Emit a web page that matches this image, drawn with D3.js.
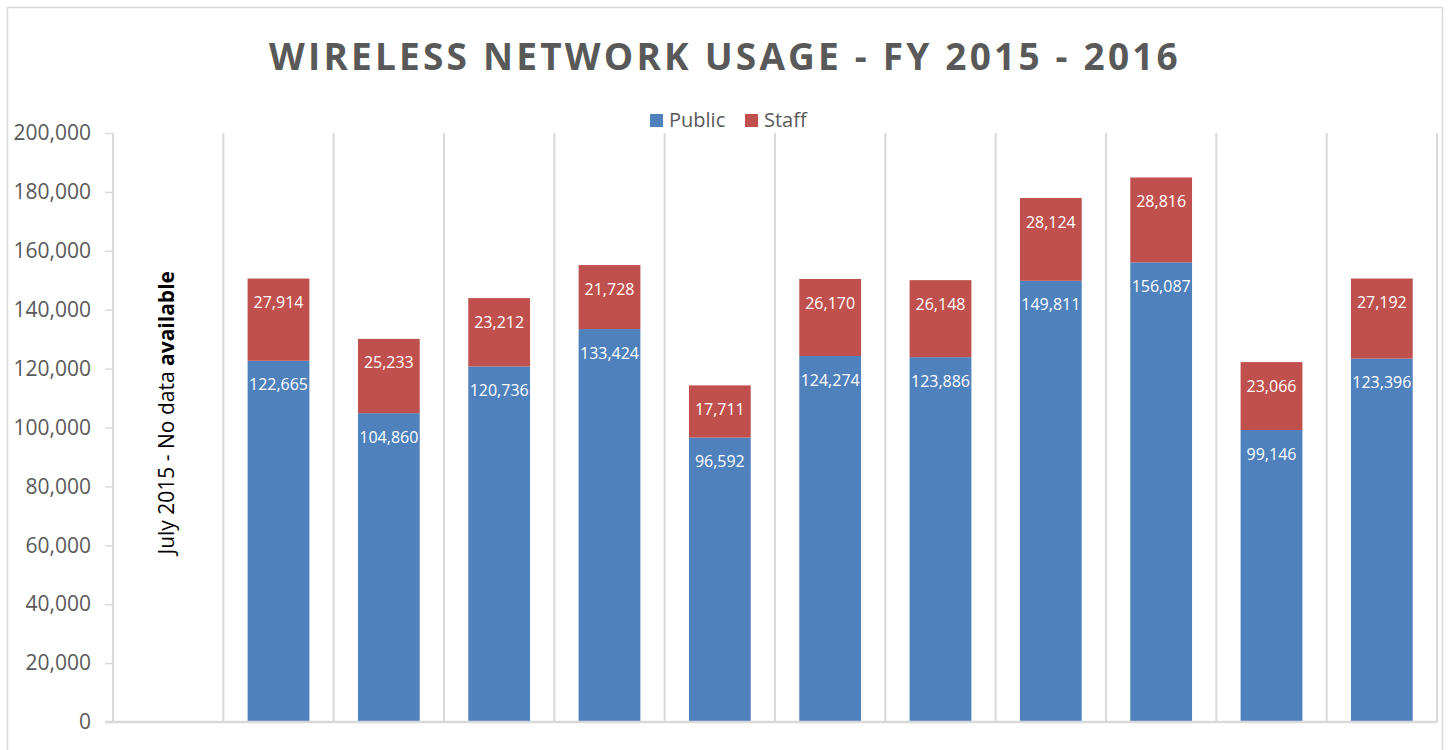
<!DOCTYPE html>
<html>
<head>
<meta charset="utf-8">
<script src="https://cdn.jsdelivr.net/npm/d3@7"></script>
<style>
  body { margin: 0; background: #fff; }
  svg text { font-family: "Open Sans", sans-serif; }
</style>
</head>
<body>
<div id="chart"></div>
<script>
const months = ["Jul 2015", "Aug 2015", "Sep 2015", "Oct 2015", "Nov 2015", "Dec 2015",
  "Jan 2016", "Feb 2016", "Mar 2016", "Apr 2016", "May 2016", "Jun 2016"];
const publicUse = [null, 122665, 104860, 120736, 133424, 96592, 124274, 123886, 149811, 156087, 99146, 123396];
const staffUse = [null, 27914, 25233, 23212, 21728, 17711, 26170, 26148, 28124, 28816, 23066, 27192];
const yTicks = [0, 20000, 40000, 60000, 80000, 100000, 120000, 140000, 160000, 180000, 200000];
const seriesNames = ["Public", "Staff"];

const width = 1448, height = 750;
const margin = { top: 133, right: 11, bottom: 28, left: 113 };

const svg = d3.select("#chart").append("svg")
  .attr("width", width)
  .attr("height", height);

// chart frame
svg.append("rect")
  .attr("x", 7.5).attr("y", 7.5)
  .attr("width", 1435).attr("height", 760)
  .attr("fill", "none")
  .attr("stroke", "#d9d9d9")
  .attr("stroke-width", 1.5);

const color = d3.scaleOrdinal().domain(seriesNames).range(["#4f81bd", "#c0504d"]);

const x = d3.scaleBand()
  .domain(months)
  .range([margin.left, width - margin.right])
  .paddingInner(0.44)
  .paddingOuter(0.22);

const y = d3.scaleLinear()
  .domain([0, 200000])
  .range([height - margin.bottom, margin.top]);

const step = x.step();

// vertical gridlines between categories
svg.append("g")
  .selectAll("line")
  .data(months.concat(["end"]))
  .join("line")
  .attr("x1", (d, i) => margin.left + i * step)
  .attr("x2", (d, i) => margin.left + i * step)
  .attr("y1", y(200000))
  .attr("y2", y(0))
  .attr("stroke", "#d9d9d9")
  .attr("stroke-width", 2);

// y axis
const yAxis = svg.append("g")
  .attr("transform", `translate(${margin.left},0)`)
  .call(d3.axisLeft(y).tickValues(yTicks).tickFormat(d3.format(",")).tickSize(8).tickPadding(14));
yAxis.select(".domain").remove();
yAxis.selectAll(".tick line").attr("stroke", "#d9d9d9").attr("stroke-width", 1.5);
yAxis.selectAll(".tick text")
  .attr("fill", "#595959")
  .style("font-size", "21px");

// stacked bars
const rows = months.map((m, i) => ({ month: m, Public: publicUse[i], Staff: staffUse[i] }))
  .filter(d => d.Public != null);
const stacked = d3.stack().keys(seriesNames)(rows);

const layers = svg.append("g")
  .selectAll("g")
  .data(stacked)
  .join("g")
  .attr("fill", d => color(d.key));

layers.selectAll("rect")
  .data(d => d)
  .join("rect")
  .attr("x", d => x(d.data.month))
  .attr("width", x.bandwidth())
  .attr("y", d => y(d[1]))
  .attr("height", d => y(d[0]) - y(d[1]));

layers.selectAll("text")
  .data(d => d)
  .join("text")
  .attr("x", d => x(d.data.month) + x.bandwidth() / 2)
  .attr("y", d => y(d[1]) + 24)
  .attr("dy", "0.35em")
  .attr("text-anchor", "middle")
  .attr("fill", "#fff")
  .style("font-size", "16px")
  .text(d => d3.format(",")(d[1] - d[0]));

// bottom axis line
svg.append("line")
  .attr("x1", margin.left - 8)
  .attr("x2", width - margin.right)
  .attr("y1", y(0))
  .attr("y2", y(0))
  .attr("stroke", "#d9d9d9")
  .attr("stroke-width", 2.5);

// no-data note for July
const note = svg.append("text")
  .attr("transform", `translate(${x(months[0]) + x.bandwidth() / 2 - 2},${y(105000)}) rotate(-90)`)
  .attr("text-anchor", "middle")
  .attr("dy", "0.35em")
  .attr("fill", "#000")
  .style("font-size", "21px");
note.append("tspan").text("July 2015 - No data ");
note.append("tspan").attr("font-weight", "bold").text("available");

// title
svg.append("text")
  .attr("x", 725)
  .attr("y", 70)
  .attr("text-anchor", "middle")
  .attr("fill", "#595959")
  .style("font-size", "37px")
  .style("font-weight", "bold")
  .style("letter-spacing", "3.2px")
  .text("WIRELESS NETWORK USAGE - FY 2015 - 2016");

// legend
const legend = svg.append("g")
  .selectAll("g")
  .data(seriesNames)
  .join("g")
  .attr("transform", (d, i) => `translate(${650 + i * 95},114)`);
legend.append("rect")
  .attr("width", 13).attr("height", 13)
  .attr("fill", d => color(d));
legend.append("text")
  .attr("x", 19).attr("y", 6)
  .attr("dy", "0.35em")
  .attr("fill", "#595959")
  .style("font-size", "20px")
  .text(d => d);
</script>
</body>
</html>
